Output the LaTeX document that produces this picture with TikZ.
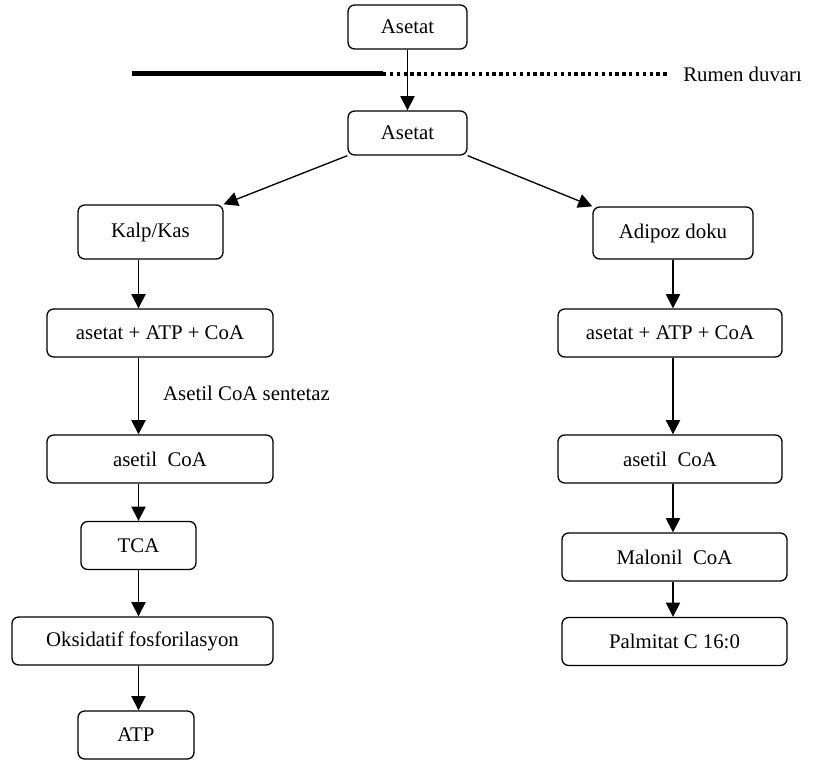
\documentclass[tikz,border=0pt]{standalone}
\usepackage{fontspec}
\setmainfont{Liberation Serif}
\usetikzlibrary{arrows.meta}

\begin{document}
\begin{tikzpicture}[
    font=\fontsize{12.5}{15}\selectfont,
    block/.style={
        rectangle,
        draw=black,
        fill=white,
        line width=0.8pt,
        rounded corners=4pt,
        minimum width=135pt,
        minimum height=28.8pt,
        inner sep=0pt,
        align=center
    },
    small/.style={
        block,
        minimum width=71.4pt,
        minimum height=26.4pt
    },
    arrow/.style={
        -{Triangle[length=8.5pt,width=8.5pt]},
        line width=0.8pt,
        black
    },
    wall/.style={
        line width=3pt
    },
    walldots/.style={
        line width=2pt,
        dash pattern=on 2pt off 2.1pt
    }
]

\useasboundingbox (0,0) rectangle (487.8pt,-457.2pt);

% --- Asetat through the rumen wall ---
\node[small] (A) at (244.5pt,-16.2pt) {Asetat};
\node[small, below of=A, node distance=63.6pt] (B) {Asetat};

\coordinate (wallL) at (79.2pt,-44.4pt);
\coordinate (wallM) at (229.8pt,-44.4pt);
\coordinate (wallR) at (400.8pt,-44.4pt);
\draw[wall] (wallL) -- (wallM);
\draw[walldots] (wallM) -- (wallR);
\node[anchor=west, inner sep=0pt, xshift=9pt] (W) at (wallR) {Rumen duvarı};

\draw[arrow] (A.south) -- (B.north);

% --- Kalp/Kas (left column) ---
\node[block, minimum width=87pt, minimum height=32.4pt, below of=B, node distance=59.4pt, xshift=-154.2pt] (C) {Kalp/Kas};
\node[block, minimum width=135.6pt, below of=C, node distance=60.6pt, xshift=5.7pt] (D) {asetat + ATP + CoA};
\node[block, minimum width=135.6pt, below of=D, node distance=75.6pt] (E) {asetil\ \ CoA};
\node[block, minimum width=69pt, below of=E, node distance=51.9pt, xshift=-12.9pt] (F) {TCA};
\node[block, minimum width=156.6pt, below of=F, node distance=57.3pt, xshift=2.4pt] (G) {Oksidatif fosforilasyon};
\node[block, minimum width=69.6pt, below of=G, node distance=56.4pt, xshift=-3.9pt] (H) {ATP};

\draw[arrow] (B.south west) -- (C.north east);
\draw[arrow] (C.south -| F) -- (D.north -| F);
\draw[arrow] (D.south -| F) -- node[midway, right, inner sep=0pt, xshift=14.4pt, yshift=1.8pt] {Asetil CoA sentetaz} (E.north -| F);
\draw[arrow] (E.south -| F) -- (F.north);
\draw[arrow] (F.south) -- (G.north -| F);
\draw[arrow] (G.south -| F) -- (H.north -| F);

% --- Adipoz doku (right column) ---
\node[block, minimum width=96pt, minimum height=31.2pt, below of=B, node distance=60pt, xshift=159.3pt] (I) {Adipoz doku};
\node[block, minimum width=134.4pt, below of=I, node distance=60pt, xshift=-1.8pt] (J) {asetat + ATP + CoA};
\node[block, minimum width=134.4pt, below of=J, node distance=75.6pt] (K) {asetil\ \ CoA};
\node[block, below of=K, node distance=58.8pt, xshift=2.7pt] (L) {Malonil\ \ CoA};
\node[block, below of=L, node distance=50.7pt] (M) {Palmitat C 16:0};

\draw[arrow] (B.south east) -- (I.north west);
\draw[arrow] (I.south) -- (J.north -| I);
\draw[arrow] (J.south -| I) -- (K.north -| I);
\draw[arrow] (K.south -| I) -- (L.north -| I);
\draw[arrow] (L.south -| I) -- (M.north -| I);

\end{tikzpicture}
\end{document}
